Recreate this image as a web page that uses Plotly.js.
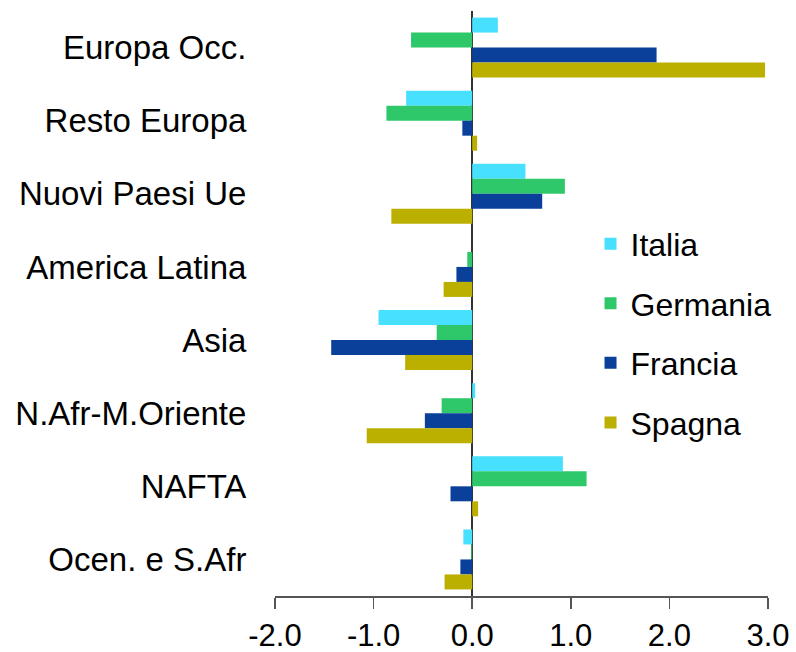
<!DOCTYPE html>
<html>
<head>
<meta charset="utf-8">
<script src="https://cdn.plot.ly/plotly-3.0.1.min.js"></script>
<style>html,body{margin:0;padding:0;background:#fff;}#chart{width:796px;height:652px;}</style>
</head>
<body>
<div id="chart"></div>
<script>
const categories = ["Europa Occ.", "Resto Europa", "Nuovi Paesi Ue", "America Latina", "Asia", "N.Afr-M.Oriente", "NAFTA", "Ocen. e S.Afr"];
const italia   = [0.26, -0.67, 0.54, 0.00, -0.95, 0.03, 0.92, -0.09];
const germania = [-0.62, -0.87, 0.94, -0.05, -0.36, -0.31, 1.16, -0.01];
const francia  = [1.87, -0.10, 0.71, -0.16, -1.43, -0.48, -0.22, -0.12];
const spagna   = [2.97, 0.05, -0.82, -0.29, -0.68, -1.07, 0.06, -0.28];
const seriesNames = ["Italia", "Germania", "Francia", "Spagna"];
const seriesColors = ["#47E0FF", "#2EC86B", "#0A3F9A", "#BBB000"];
const tickVals = [-2, -1, 0, 1, 2, 3];
const tickText = ["-2.0", "-1.0", "0.0", "1.0", "2.0", "3.0"];

const values = [italia, germania, francia, spagna];
const traces = values.map((v, i) => ({
  type: "bar",
  orientation: "h",
  name: seriesNames[i],
  legendgroup: seriesNames[i],
  y: categories,
  x: v,
  marker: {color: seriesColors[i], line: {width: 0}}
}));

const layout = {
  width: 796, height: 652,
  margin: {l: 275, r: 28, t: 11, b: 56, pad: 0},
  paper_bgcolor: "#fff", plot_bgcolor: "#fff",
  font: {family: "Liberation Sans, Arial, sans-serif", size: 32, color: "#000"},
  barmode: "group",
  bargap: 0.18,
  bargroupgap: 0,
  showlegend: true,
  legend: {
    x: 0.64, y: 0.649, xanchor: "left", yanchor: "top",
    traceorder: "grouped", tracegroupgap: 15,
    font: {size: 32, color: "#000"},
    bgcolor: "rgba(0,0,0,0)",
    itemwidth: 30
  },
  xaxis: {
    range: [-2, 3],
    tickvals: tickVals, ticktext: tickText,
    showgrid: false,
    zeroline: true, zerolinecolor: "#333", zerolinewidth: 1.5,
    showline: true, linecolor: "#555", linewidth: 1.5,
    ticks: "outside", ticklen: 11, tickwidth: 1.5, tickcolor: "#555",
    tickfont: {size: 31, color: "#000"},
    fixedrange: true
  },
  yaxis: {
    autorange: "reversed",
    showgrid: false, zeroline: false, showline: false,
    ticks: "outside", ticklen: 21, tickcolor: "rgba(0,0,0,0)",
    tickfont: {size: 33, color: "#000"},
    fixedrange: true
  }
};

Plotly.newPlot("chart", traces, layout, {displayModeBar: false, staticPlot: true});
</script>
</body>
</html>
